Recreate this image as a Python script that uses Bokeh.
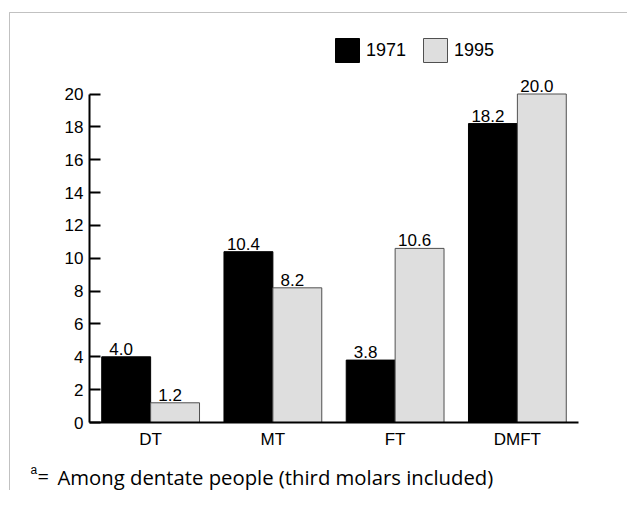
from bokeh.plotting import figure
from bokeh.models import (Range1d, ColumnDataSource, Legend, LegendItem, Label,
                          BoxAnnotation, FixedTicker, LinearAxis)
from bokeh.transform import dodge
from bokeh.core.properties import value
from bokeh.embed import file_html
from bokeh.resources import INLINE

# ---- data ----
categories = ["DT", "MT", "FT", "DMFT"]
years = ["1971", "1995"]
values_1971 = [4.0, 10.4, 3.8, 18.2]
values_1995 = [1.2, 8.2, 10.6, 20.0]
y_ticks = [0, 2, 4, 6, 8, 10, 12, 14, 16, 18, 20]
footnote_mark = "a"
footnote_eq = "="
footnote = "Among dentate people (third molars included)"

# ---- layout constants (canvas pixels) ----
W, H = 627, 490
X0, XS = 89.0, 122.25      # pixel of x=0, pixels per category
Y0, YS = 422.0, 16.425     # pixel of y=0, pixels per unit


def dx(px):
    return (px - X0) / XS


def dy(py):
    return (Y0 - py) / YS


x_pos = [i + 0.5 for i in range(len(categories))]
src = ColumnDataSource(dict(
    x=x_pos,
    v71=values_1971,
    v95=values_1995,
    l71=[f"{v:.1f}" for v in values_1971],
    l95=[f"{v:.1f}" for v in values_1995],
))

FONT = "Liberation Sans"

p = figure(x_range=Range1d(dx(0), dx(W)), y_range=Range1d(dy(H), dy(0)),
           width=W, height=H, output_backend="svg", toolbar_location=None,
           x_axis_location=None, y_axis_location=None,
           min_border_left=0, min_border_right=0, min_border_top=0, min_border_bottom=0)
p.outline_line_color = None
p.xgrid.grid_line_color = None
p.ygrid.grid_line_color = None
p.background_fill_color = "white"
p.border_fill_color = "white"

r71 = p.vbar(x=dodge("x", -0.2), top="v71", width=0.4, source=src,
             fill_color="black", line_color="black", line_width=1)
r95 = p.vbar(x=dodge("x", 0.2), top="v95", width=0.4, source=src,
             fill_color="#dedede", line_color="#505050", line_width=1)

for xo, tcol, ycol in ((-0.2, "l71", "v71"), (0.2, "l95", "v95")):
    p.text(x=dodge("x", xo), y=ycol, text=tcol, source=src,
           text_align="center", text_baseline="bottom", x_offset=-5, y_offset=-2,
           text_font=value(FONT), text_font_size="17px", text_color="black")

yaxis = LinearAxis(fixed_location=0, ticker=FixedTicker(ticks=y_ticks), bounds=(0, 20))
yaxis.major_tick_in = 11
yaxis.major_tick_out = 0
yaxis.minor_tick_line_color = None
yaxis.axis_line_width = 2
yaxis.major_tick_line_width = 2
yaxis.major_label_standoff = 6
yaxis.major_label_text_font = FONT
yaxis.major_label_text_font_size = "17px"
yaxis.major_label_text_color = "black"
p.add_layout(yaxis, "left")

xaxis = LinearAxis(fixed_location=0, ticker=FixedTicker(ticks=x_pos), bounds=(0, len(categories)),
                   major_label_overrides={x: c for x, c in zip(x_pos, categories)})
xaxis.major_tick_line_color = None
xaxis.minor_tick_line_color = None
xaxis.axis_line_width = 2
xaxis.major_label_standoff = 1
xaxis.major_label_text_font = FONT
xaxis.major_label_text_font_size = "17px"
xaxis.major_label_text_color = "black"
p.add_layout(xaxis, "below")

legend = Legend(items=[LegendItem(label=years[0], renderers=[r71]),
                       LegendItem(label=years[1], renderers=[r95])],
                orientation="horizontal", location=(332, H - 65),
                glyph_width=30, glyph_height=30, label_standoff=4, spacing=14,
                padding=0, margin=0, border_line_color=None, background_fill_alpha=0,
                label_text_font=FONT, label_text_font_size="18px", label_text_color="black")
p.add_layout(legend)

p.add_layout(Label(x=dx(30), y=dy(469), text=footnote_mark, text_font=FONT,
                   text_baseline="alphabetic", text_font_size="12px", text_color="black"))
p.add_layout(Label(x=dx(37), y=dy(476), text=footnote_eq, text_font="Open Sans",
                   text_baseline="alphabetic", text_font_size="20px", text_color="black"))
p.add_layout(Label(x=dx(57), y=dy(476), text=footnote, text_font="Open Sans",
                   text_baseline="alphabetic", text_font_size="20.3px", text_color="black"))

frame = BoxAnnotation(left=dx(9), top=dy(12), fill_alpha=0,
                      line_color="#333333", line_width=1)
p.add_layout(frame)

open("out.html", "w").write(file_html(p, INLINE))
